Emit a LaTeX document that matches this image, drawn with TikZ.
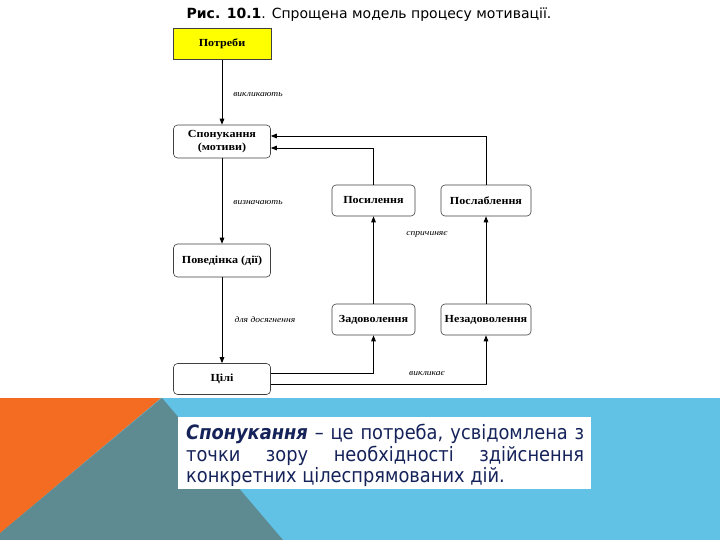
\documentclass[tikz,border=0pt]{standalone}
\usepackage{fontspec}
\setmainfont{Liberation Serif}
\newfontfamily\djv{DejaVu Sans}
\newfontfamily\djvc{DejaVu Sans Condensed}
\newfontfamily\boxfont[FakeStretch=1.12]{Liberation Serif}
\usetikzlibrary{arrows.meta}
\definecolor{bandblue}{HTML}{62C2E6}
\definecolor{bandgray}{HTML}{5E8B91}
\definecolor{bandorange}{HTML}{F36C21}
\definecolor{navy}{HTML}{16235A}
\definecolor{boxyellow}{HTML}{FFFF00}
\begin{document}
\begin{tikzpicture}[x=1pt,y=-1pt,
  box/.style={draw=black!75, line width=0.6pt, rounded corners=4pt, inner sep=0pt,
    minimum height=32pt, font=\boxfont\bfseries\fontsize{10.8}{13}\selectfont, align=center},
  lbl/.style={font=\boxfont\itshape\fontsize{8.5}{9}\selectfont},
  arr/.style={-{Triangle[length=6pt,width=4.5pt]}, line width=0.9pt, draw=black}]
\useasboundingbox (0,0) rectangle (720,540);
\fill[white] (0,0) rectangle (720,540);
% background bands
\fill[bandblue] (0,398) rectangle (720,540);
\fill[bandgray] (162,398) -- (283,540) -- (0,540) -- (0,533) -- cycle;
\fill[bandorange] (0,398) -- (161,398) -- (0,533) -- cycle;
% title
\node[font=\djv\fontsize{14}{16}\selectfont] (title) at (369,15) {\textbf{Рис. 10.1}. Спрощена модель процесу мотивації.};
% boxes
\node[box, rounded corners=0pt, fill=boxyellow, minimum width=98pt, minimum height=31pt] (potr) at (222,44) {Потреби};
\node[box, minimum width=97pt, minimum height=33pt] (spon) at (222,141.5) {Спонукання\\(мотиви)};
\node[box, minimum width=97pt, minimum height=33pt] (pov) at (222,260.5) {Поведінка (дії)};
\node[box, minimum width=97pt, minimum height=31pt] (cili) at (222,379) {Цілі};
\node[box, minimum width=83pt, minimum height=31pt] (posyl) at (373.5,200.5) {Посилення};
\node[box, minimum width=90pt, minimum height=31pt] (poslab) at (486,200.5) {Послаблення};
\node[box, minimum width=83pt, minimum height=31pt] (zad) at (373.5,319.5) {Задоволення};
\node[box, minimum width=90pt, minimum height=31pt] (nezad) at (486,319.5) {Незадоволення};
% connectors
\draw[arr] (potr) -- (spon);
\draw[arr] (spon) -- (pov);
\draw[arr] (pov) -- (cili);
\draw[arr] ([yshift=6pt]cili.east) -| (zad.south);
\draw[arr] ([yshift=-5pt]cili.east) -| (nezad.south);
\draw[arr] (zad) -- (posyl);
\draw[arr] (nezad) -- (poslab);
\draw[arr] (posyl.north) |- ([yshift=-6.5pt]spon.east);
\draw[arr] (poslab.north) |- ([yshift=5.5pt]spon.east);
% labels
\node[lbl] (l1) at (258,95) {викликають};
\node[lbl] (l2) at (258,203) {визначають};
\node[lbl] (l3) at (265,320) {для досягнення};
\node[lbl] (l4) at (427,234) {спричиняє};
\node[lbl] (l5) at (427,374) {викликає};
% definition box
\fill[white] (178,417) rectangle (591,489);
\node[text=navy, text width=398pt, align=justify, inner sep=0pt, anchor=north west,
  font=\djvc\fontsize{19.8}{21.6}\selectfont] (def) at (186,424)
  {\hyphenpenalty=10000\textbf{\textit{Спонукання}} – це потреба, усвідомлена з\linebreak точки зору необхідності здійснення\linebreak конкретних цілеспрямованих дій.};
\end{tikzpicture}
\end{document}
